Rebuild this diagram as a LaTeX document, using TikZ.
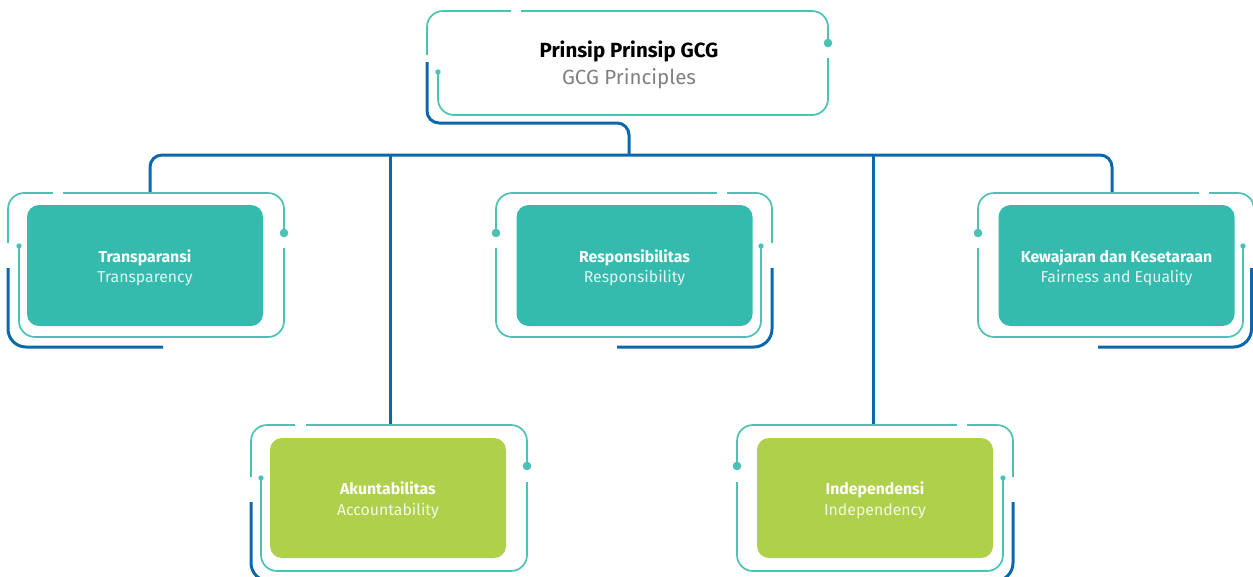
\documentclass[tikz,border=0pt]{standalone}
\usepackage{fontspec}
\setmainfont{Fira Sans}
\definecolor{tealline}{HTML}{4CC2B6}
\definecolor{tealfill}{HTML}{35BBAE}
\definecolor{greenfill}{HTML}{AED04B}
\definecolor{bluel}{HTML}{0B68AD}
\definecolor{subgray}{HTML}{808080}
\begin{document}
\begin{tikzpicture}[x=1pt,y=-1pt,
  tline/.style={draw=tealline, line width=1.7pt, rounded corners=16pt},
  bline/.style={draw=bluel, line width=3pt, rounded corners=16pt},
  bigdot/.style={fill=tealline},
  card/.style={rounded corners=12pt, minimum width=236pt, minimum height=121pt, inner sep=0pt},
  cardtext/.style={align=center, text=white, font=\fontsize{15.8}{20.5}\selectfont, inner sep=0pt, yshift=-2.5pt}
]
\clip (0,0) rectangle (1253,576);

% ---------- top frame (GCG) ----------
\draw[tline] (427,55) |- (511,11);
\draw[tline] (521,11) -| (828,43);
\fill[bigdot] (828,43) circle (4.3pt);
\draw[tline] (828,58) |- (438,115) -- (438,72);
\fill[bigdot] (438,72) circle (2.7pt);
\node[align=center, font=\fontsize{20.5}{26.5}\selectfont] (gcg) at (629,65)
  {\textbf{Prinsip Prinsip GCG}\\{\color{subgray}GCG Principles}};

% ---------- tree connectors ----------
\coordinate (gcgstub) at (427,62);
\coordinate (gcgturn) at (629,123);
\coordinate (hub) at (629,155);
\coordinate (transtop) at (150,193);
\coordinate (kewtop) at (1112,193);
\coordinate (akuntop) at (390,425);
\coordinate (indtop) at (873,425);
\draw[bline, rounded corners=12pt] (gcgstub) |- (gcgturn) -- (hub);
\draw[bline, rounded corners=12pt] (transtop) |- (hub) -| (kewtop);
\draw[bline] (hub -| akuntop) -- (akuntop);
\draw[bline] (hub -| indtop) -- (indtop);

% ---------- Transparansi (type A) ----------
\draw[tline] (8,243) |- (53,193);
\draw[tline] (63,193) -| (284,233);
\fill[bigdot] (284,233) circle (4.3pt);
\draw[tline] (284,248) |- (19,337) -- (19,246);
\fill[bigdot] (19,246) circle (2.7pt);
\draw[bline, rounded corners=18pt] (8,268) |- (163,347);
\node[card, fill=tealfill] (trans) at (145,265.5) {};
\node[cardtext] (transtxt) at (trans.center)
  {\textbf{Transparansi}\\{\color{white!85!tealfill}Transparency}};

% ---------- Responsibilitas (type B) ----------
\draw[tline] (496,233) |- (717,193);
\draw[tline] (727,193) -| (772,243);
\fill[bigdot] (496,233) circle (4.3pt);
\draw[tline] (496,248) |- (761,337) -- (761,246);
\fill[bigdot] (761,246) circle (2.7pt);
\draw[bline, rounded corners=18pt] (772,268) |- (617,347);
\node[card, fill=tealfill] (resp) at (634.5,265.5) {};
\node[cardtext] (resptxt) at (resp.center)
  {\textbf{Responsibilitas}\\{\color{white!85!tealfill}Responsibility}};

% ---------- Kewajaran (type B) ----------
\draw[tline] (978,233) |- (1199,193);
\draw[tline] (1209,193) -| (1254,243);
\fill[bigdot] (978,233) circle (4.3pt);
\draw[tline] (978,248) |- (1243,337) -- (1243,246);
\fill[bigdot] (1243,246) circle (2.7pt);
\draw[bline, rounded corners=18pt] (1251.5,268) |- (1098,347);
\node[card, fill=tealfill] (kew) at (1116.5,265.5) {};
\node[cardtext] (kewtxt) at (kew.center)
  {\textbf{Kewajaran dan Kesetaraan}\\{\color{white!85!tealfill}Fairness and Equality}};

% ---------- Akuntabilitas (type A) ----------
\draw[tline] (251,477) |- (295,425);
\draw[tline] (306,425) -| (527,466);
\fill[bigdot] (527,466) circle (4.3pt);
\draw[tline] (527,482) |- (261,571) -- (261,478);
\fill[bigdot] (261,478) circle (2.7pt);
\draw[bline, rounded corners=18pt] (251,502) |- (406,581);
\node[card, fill=greenfill, minimum height=120pt] (akun) at (388,498) {};
\node[cardtext] (akuntxt) at (akun.center)
  {\textbf{Akuntabilitas}\\{\color{white!85!greenfill}Accountability}};

% ---------- Independensi (type B) ----------
\draw[tline] (737,466) |- (957,425);
\draw[tline] (967,425) -| (1013,477);
\fill[bigdot] (737,466) circle (4.3pt);
\draw[tline] (737,482) |- (1003,571) -- (1003,478);
\fill[bigdot] (1003,478) circle (2.7pt);
\draw[bline, rounded corners=18pt] (1013,502) |- (858,581);
\node[card, fill=greenfill, minimum height=120pt] (indep) at (875,498) {};
\node[cardtext] (indeptxt) at (indep.center)
  {\textbf{Independensi}\\{\color{white!85!greenfill}Independency}};
\end{tikzpicture}
\end{document}
